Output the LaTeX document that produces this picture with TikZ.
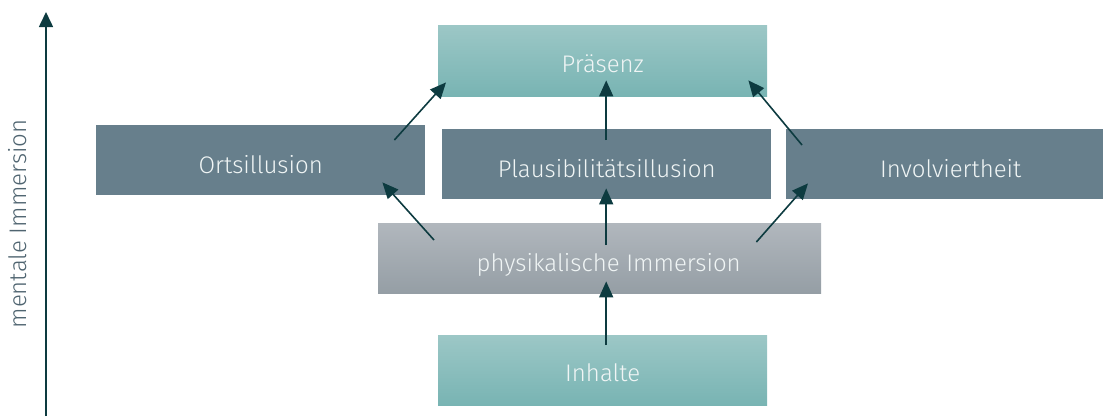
\documentclass[tikz,border=0pt]{standalone}
\usepackage{fontspec}
\setmainfont{Fira Sans}[UprightFont=* Light]
\usetikzlibrary{arrows.meta,calc}
\definecolor{tealtop}{HTML}{9CC7C6}
\definecolor{tealbot}{HTML}{78B4B3}
\definecolor{slate}{HTML}{677F8C}
\definecolor{labelc}{HTML}{4F6470}
\definecolor{graytop}{HTML}{B1B7BD}
\definecolor{graybot}{HTML}{959EA5}
\definecolor{arrowc}{HTML}{0D3B40}
\definecolor{txtc}{HTML}{F0F5F5}
\begin{document}
\begin{tikzpicture}[x=1pt,y=-1pt,
  box/.style={anchor=north west,inner sep=0pt,minimum width=329pt,minimum height=70pt,
    text=txtc,font=\fontsize{24}{28}\selectfont,text height=26pt,text depth=0pt},
  tealbox/.style={box,top color=tealtop,bottom color=tealbot,text height=23pt},
  slatebox/.style={box,fill=slate},
  graybox/.style={box,top color=graytop,bottom color=graybot,text height=27pt},
  arr/.style={draw=arrowc,line width=1.6pt,-{Triangle[length=16pt,width=14pt]}}]
\clip (0,0) rectangle (1103,416);
\useasboundingbox (0,0) rectangle (1103,416);
\node[tealbox,minimum height=71pt] (pra) at (438,25) {Präsenz};
\node[slatebox] (orts) at (96,125) {Ortsillusion};
\node[slatebox] (plaus) at (442,129) {Plausibilitätsillusion};
\node[slatebox] (inv) at (786,129) {Involviertheit};
\node[graybox,minimum width=443pt] (phys) at (378,223) {\hspace*{18pt}physikalische Immersion};
\node[tealbox] (inh) at (438,335) {Inhalte};
% axis
\coordinate (axb) at (46,416);
\coordinate (axt) at (46,12);
\draw[arr,-{Triangle[length=15pt,width=14pt]}] (axb) -- (axt);
\node[rotate=90,text=labelc,font=\fontsize{24}{28}\selectfont] (axl) at (18,224) {mentale Immersion};
% arrows
\draw[arr] ($(inh.north)+(3.5,10)$) -- ($(phys.south)+(6.5,-12)$);
\draw[arr] ($(phys.north)+(6.5,22)$) -- ($(plaus.south)+(-0.5,-11)$);
\draw[arr] ($(plaus.north)+(-0.5,11)$) -- ($(pra.south)+(3.5,-16)$);
\draw[arr] ($(phys.north west)+(56,17)$) -- ($(orts.south east)+(-43,-13)$);
\draw[arr] ($(orts.north east)+(-31,15)$) -- ($(pra.south west)+(8,-14)$);
\draw[arr] ($(phys.north east)+(-65,19)$) -- ($(inv.south west)+(22,-16)$);
\draw[arr] ($(inv.north west)+(16,16)$) -- ($(pra.south east)+(-19,-16)$);
\end{tikzpicture}
\end{document}
